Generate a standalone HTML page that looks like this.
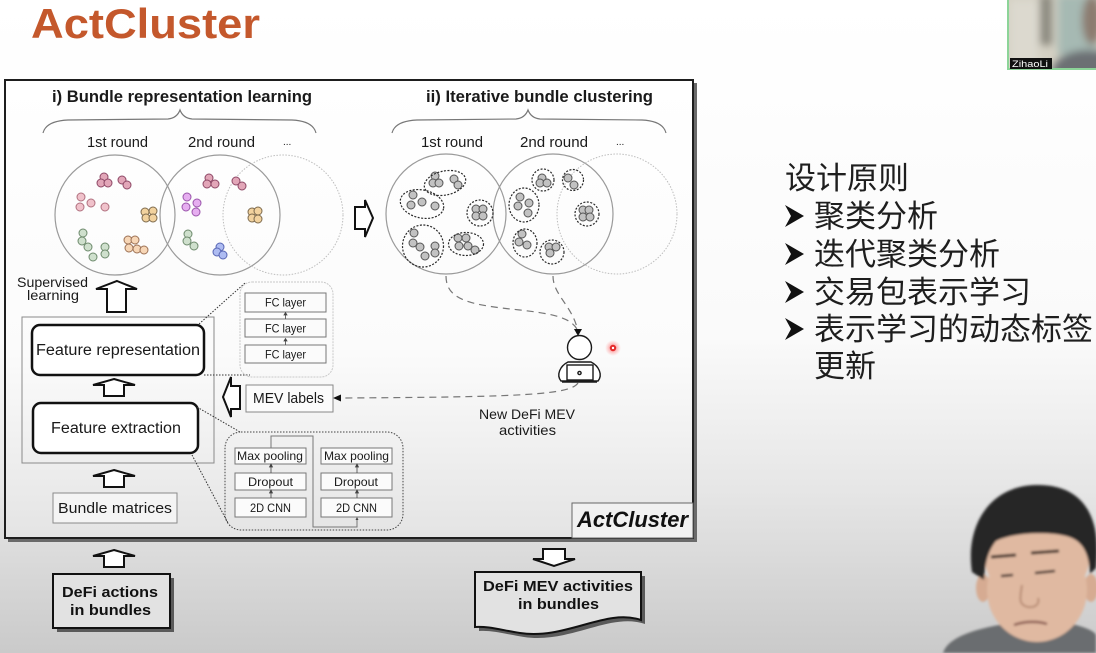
<!DOCTYPE html>
<html><head><meta charset="utf-8"><style>
html,body{margin:0;padding:0;width:1096px;height:653px;overflow:hidden;background:#fff}
svg{display:block}
</style></head><body>
<svg width="1096" height="653" viewBox="0 0 1096 653" xmlns="http://www.w3.org/2000/svg">
<defs>
<linearGradient id="bg" x1="0" y1="0" x2="0" y2="653" gradientUnits="userSpaceOnUse">
<stop offset="0" stop-color="#ffffff"/><stop offset="0.52" stop-color="#fafafa"/><stop offset="0.75" stop-color="#e6e6e6"/><stop offset="1" stop-color="#cacaca"/>
</linearGradient>
<linearGradient id="bx" x1="0" y1="80" x2="0" y2="538" gradientUnits="userSpaceOnUse">
<stop offset="0" stop-color="#ffffff"/><stop offset="0.6" stop-color="#fbfbfb"/><stop offset="1" stop-color="#e4e4e4"/>
</linearGradient>
<radialGradient id="rd"><stop offset="0" stop-color="#ff5050" stop-opacity="0.8"/><stop offset="1" stop-color="#ff8080" stop-opacity="0"/></radialGradient>
<filter id="b3"><feGaussianBlur stdDeviation="4"/></filter>
<filter id="b1"><feGaussianBlur stdDeviation="1.2"/></filter>
<clipPath id="cam"><rect x="1008" y="0" width="88" height="69"/></clipPath>
<clipPath id="pp"><rect x="900" y="470" width="196" height="183"/></clipPath>
</defs>

<rect x="0" y="0" width="1096" height="653" fill="url(#bg)"/>

<!-- Title -->
<text x="31" y="38" font-family="Liberation Sans, sans-serif" font-weight="bold" font-size="42" fill="#c4582c" textLength="229" lengthAdjust="spacingAndGlyphs">ActCluster</text>

<!-- Main box -->
<rect x="8" y="83" width="689" height="459" fill="#6a6a6a"/>
<rect x="5" y="80" width="688" height="458" fill="url(#bx)" stroke="#1e1e1e" stroke-width="2"/>

<g font-family="Liberation Sans, sans-serif" fill="#1a1a1a">
<text x="52" y="102" font-weight="bold" font-size="17" textLength="260" lengthAdjust="spacingAndGlyphs">i) Bundle representation learning</text>
<text x="426" y="102" font-weight="bold" font-size="17" textLength="227" lengthAdjust="spacingAndGlyphs">ii) Iterative bundle clustering</text>
<text x="87" y="147" font-size="15" textLength="61" lengthAdjust="spacingAndGlyphs">1st round</text>
<text x="188" y="147" font-size="15" textLength="67" lengthAdjust="spacingAndGlyphs">2nd round</text>
<text x="283" y="145" font-size="10">...</text>
<text x="421" y="147" font-size="15" textLength="62" lengthAdjust="spacingAndGlyphs">1st round</text>
<text x="520" y="147" font-size="15" textLength="68" lengthAdjust="spacingAndGlyphs">2nd round</text>
<text x="616" y="145" font-size="10">...</text>
</g>

<!-- braces -->
<g fill="none" stroke="#777" stroke-width="1.2">
<path d="M43,133 Q46,121 68,120 L168,119 Q177,118 180,110 Q183,118 192,119 L292,120 Q313,121 316,133"/>
<path d="M392,133 Q395,121 417,120 L516,119 Q525,118 528,110 Q531,118 540,119 L642,120 Q663,121 666,133"/>
</g>

<!-- big circles -->
<g fill="none">
<circle cx="115" cy="215" r="60" stroke="#9a9a9a" stroke-width="1.2"/>
<circle cx="220" cy="215" r="60" stroke="#9a9a9a" stroke-width="1.2"/>
<circle cx="283" cy="215" r="60" stroke="#bdbdbd" stroke-width="1" stroke-dasharray="1.5 1.5"/>
<circle cx="446" cy="214" r="60" stroke="#9a9a9a" stroke-width="1.2"/>
<circle cx="553" cy="214" r="60" stroke="#9a9a9a" stroke-width="1.2"/>
<circle cx="617" cy="214" r="60" stroke="#bdbdbd" stroke-width="1" stroke-dasharray="1.5 1.5"/>
</g>

<!-- colored dots -->
<g stroke-width="1">
<g fill="#e2a6b8" stroke="#8e4866">
<circle cx="104" cy="177" r="4"/><circle cx="101" cy="183" r="4"/><circle cx="108" cy="183" r="4"/><circle cx="122" cy="180" r="4"/><circle cx="127" cy="185" r="4"/>
<circle cx="209" cy="178" r="4"/><circle cx="207" cy="184" r="4"/><circle cx="215" cy="184" r="4"/><circle cx="236" cy="181" r="4"/><circle cx="242" cy="186" r="4"/>
</g>
<g fill="#f0c2cb" stroke="#b0707f">
<circle cx="81" cy="197" r="4"/><circle cx="80" cy="207" r="4"/><circle cx="91" cy="203" r="4"/><circle cx="105" cy="207" r="4"/>
</g>
<g fill="#f2d29e" stroke="#7d6a4d">
<circle cx="145" cy="212" r="4"/><circle cx="153" cy="211" r="4"/><circle cx="146" cy="218" r="4"/><circle cx="153" cy="218" r="4"/>
<circle cx="252" cy="212" r="4"/><circle cx="258" cy="211" r="4"/><circle cx="252" cy="218" r="4"/><circle cx="258" cy="219" r="4"/>
</g>
<g fill="#cfe0cd" stroke="#6d8a6c">
<circle cx="83" cy="233" r="4"/><circle cx="82" cy="241" r="4"/><circle cx="88" cy="247" r="4"/><circle cx="93" cy="257" r="4"/><circle cx="105" cy="247" r="4"/><circle cx="105" cy="254" r="4"/>
<circle cx="188" cy="234" r="4"/><circle cx="187" cy="241" r="4"/><circle cx="194" cy="246" r="4"/>
</g>
<g fill="#f7d6b6" stroke="#9c7155">
<circle cx="128" cy="240" r="4"/><circle cx="135" cy="240" r="4"/><circle cx="129" cy="248" r="4"/><circle cx="137" cy="249" r="4"/><circle cx="144" cy="250" r="4"/>
</g>
<g fill="#e6aef0" stroke="#9a55ab">
<circle cx="187" cy="197" r="4"/><circle cx="197" cy="203" r="4"/><circle cx="186" cy="207" r="4"/><circle cx="196" cy="212" r="4"/>
</g>
<g fill="#aebcf2" stroke="#5866b4">
<circle cx="220" cy="247" r="4"/><circle cx="217" cy="252" r="4"/><circle cx="223" cy="255" r="4"/>
</g>
</g>

<!-- gray dots + dashed clusters -->
<g fill="#c2c2c2" stroke="#555" stroke-width="1">
<circle cx="435" cy="176" r="4"/><circle cx="433" cy="183" r="4"/><circle cx="439" cy="183" r="4"/><circle cx="454" cy="179" r="4"/><circle cx="458" cy="185" r="4"/>
<circle cx="413" cy="195" r="4"/><circle cx="411" cy="205" r="4"/><circle cx="422" cy="202" r="4"/><circle cx="435" cy="206" r="4"/>
<circle cx="476" cy="209" r="4"/><circle cx="483" cy="209" r="4"/><circle cx="476" cy="216" r="4"/><circle cx="483" cy="216" r="4"/>
<circle cx="414" cy="233" r="4"/><circle cx="413" cy="243" r="4"/><circle cx="420" cy="247" r="4"/><circle cx="435" cy="246" r="4"/><circle cx="435" cy="253" r="4"/><circle cx="425" cy="256" r="4"/>
<circle cx="458" cy="238" r="4"/><circle cx="466" cy="238" r="4"/><circle cx="459" cy="246" r="4"/><circle cx="468" cy="246" r="4"/><circle cx="475" cy="250" r="4"/>
<circle cx="542" cy="178" r="4"/><circle cx="540" cy="183" r="4"/><circle cx="547" cy="183" r="4"/>
<circle cx="568" cy="178" r="4"/><circle cx="574" cy="185" r="4"/>
<circle cx="520" cy="197" r="4"/><circle cx="518" cy="206" r="4"/><circle cx="529" cy="203" r="4"/><circle cx="528" cy="213" r="4"/>
<circle cx="583" cy="210" r="4"/><circle cx="589" cy="210" r="4"/><circle cx="583" cy="217" r="4"/><circle cx="590" cy="217" r="4"/>
<circle cx="522" cy="234" r="4"/><circle cx="519" cy="242" r="4"/><circle cx="527" cy="245" r="4"/>
<circle cx="549" cy="247" r="4"/><circle cx="556" cy="247" r="4"/><circle cx="550" cy="253" r="4"/>
</g>
<g fill="none" stroke="#2a2a2a" stroke-width="1.2" stroke-dasharray="2 1.5">
<ellipse cx="445" cy="183" rx="21" ry="12" transform="rotate(-12 445 183)"/>
<ellipse cx="422" cy="204" rx="22" ry="14" transform="rotate(12 422 204)"/>
<circle cx="480" cy="213" r="13"/>
<ellipse cx="423" cy="246" rx="20.5" ry="21"/>
<ellipse cx="466" cy="244" rx="17.5" ry="11.5"/>
<circle cx="543" cy="180" r="11"/>
<circle cx="573" cy="180" r="10.5"/>
<ellipse cx="524" cy="205" rx="15" ry="17"/>
<circle cx="587" cy="214" r="12"/>
<ellipse cx="525" cy="243" rx="12" ry="14"/>
<circle cx="552" cy="252" r="12"/>
</g>

<!-- right arrows between sections -->
<path d="M355,207 H365 V200 L373,218 L365,237 V229 H355 Z" fill="#fff" stroke="#111" stroke-width="2" stroke-linejoin="miter"/>

<!-- dashed curves to person -->
<g fill="none" stroke="#777" stroke-width="1.2" stroke-dasharray="7 5">
<path d="M446,276 C446,300 470,305 520,310 C555,314 572,318 578,331"/>
<path d="M553,276 C553,295 572,305 578,331"/>
<path d="M578,383 C570,395 520,397 340,398"/>
</g>
<path d="M574,329 L582,329 L578,336 Z" fill="#111"/>
<path d="M333,398 L341,394.5 L341,401.5 Z" fill="#111"/>

<!-- person -->
<g fill="#fff" stroke="#1a1a1a" stroke-width="1.4">
<circle cx="579.5" cy="347.5" r="12"/>
<path d="M561,381 C556,375 560,366 568,362 L591,362 C599,366 603,375 598,381 Z"/>
<rect x="567" y="365" width="26" height="15"/>
<circle cx="579.5" cy="373" r="1.6"/>
<line x1="562" y1="382" x2="597" y2="382"/>
</g>

<!-- red pointer -->
<circle cx="613" cy="348" r="8" fill="url(#rd)"/>
<circle cx="613" cy="348" r="3.2" fill="#e52a2a"/>
<circle cx="613" cy="348" r="1.2" fill="#fff"/>

<g font-family="Liberation Sans, sans-serif" fill="#1a1a1a">
<text x="479" y="419" font-size="14" textLength="96" lengthAdjust="spacingAndGlyphs">New DeFi MEV</text>
<text x="499" y="435" font-size="14" textLength="57" lengthAdjust="spacingAndGlyphs">activities</text>
</g>

<!-- ActCluster label -->
<rect x="572" y="503" width="121" height="35" fill="#f1f1f1" stroke="#666" stroke-width="1"/>
<text x="577" y="527" font-family="Liberation Sans, sans-serif" font-weight="bold" font-style="italic" font-size="22" fill="#111" textLength="111" lengthAdjust="spacingAndGlyphs">ActCluster</text>

<!-- left pipeline -->
<g font-family="Liberation Sans, sans-serif" fill="#1a1a1a">
<text x="17" y="287" font-size="14" textLength="71" lengthAdjust="spacingAndGlyphs">Supervised</text>
<text x="27" y="300" font-size="14" textLength="52" lengthAdjust="spacingAndGlyphs">learning</text>
</g>
<path d="M117,281 L137,289 L126,289 V312 H107 V289 L96,289 Z" fill="#fff" stroke="#111" stroke-width="2" stroke-linejoin="miter"/>

<rect x="22" y="317" width="192" height="146" fill="none" stroke="#8a8a8a" stroke-width="1"/>
<rect x="32" y="325" width="172" height="50" rx="8" fill="#fff" stroke="#111" stroke-width="2.5"/>
<text x="36" y="355" font-family="Liberation Sans, sans-serif" font-size="15.5" fill="#1a1a1a" textLength="164" lengthAdjust="spacingAndGlyphs">Feature representation</text>
<path d="M114,379 L135,385 L124,385 V396 H104 V385 L93,385 Z" fill="#fff" stroke="#111" stroke-width="2"/>
<rect x="33" y="403" width="165" height="50" rx="8" fill="#fff" stroke="#111" stroke-width="2.5"/>
<text x="51" y="433" font-family="Liberation Sans, sans-serif" font-size="15.5" fill="#1a1a1a" textLength="130" lengthAdjust="spacingAndGlyphs">Feature extraction</text>
<path d="M114,470 L135,476 L124,476 V487 H104 V476 L93,476 Z" fill="#fff" stroke="#111" stroke-width="2"/>
<rect x="53" y="493" width="124" height="30" fill="#f4f4f4" stroke="#8a8a8a" stroke-width="1"/>
<text x="58" y="513" font-family="Liberation Sans, sans-serif" font-size="15" fill="#1a1a1a" textLength="114" lengthAdjust="spacingAndGlyphs">Bundle matrices</text>

<!-- dotted leaders -->
<g stroke="#333" stroke-width="1" stroke-dasharray="1.5 1.5" fill="none">
<line x1="199" y1="324" x2="245" y2="283"/>
<line x1="204" y1="375" x2="250" y2="375"/>
<line x1="197" y1="407" x2="240" y2="432"/>
<line x1="192" y1="455" x2="228" y2="523"/>
</g>

<!-- FC group -->
<rect x="240" y="282" width="93" height="95" rx="12" fill="none" stroke="#c9c9c9" stroke-width="1" stroke-dasharray="2 1"/>
<g fill="#fbfbfb" stroke="#777" stroke-width="1">
<rect x="245" y="293" width="81" height="19"/>
<rect x="245" y="319" width="81" height="18"/>
<rect x="245" y="345" width="81" height="18"/>
</g>
<g font-family="Liberation Sans, sans-serif" font-size="12" fill="#1a1a1a">
<text x="265" y="306.5" textLength="41" lengthAdjust="spacingAndGlyphs">FC layer</text>
<text x="265" y="332.5" textLength="41" lengthAdjust="spacingAndGlyphs">FC layer</text>
<text x="265" y="358.5" textLength="41" lengthAdjust="spacingAndGlyphs">FC layer</text>
</g>
<g stroke="#444" stroke-width="0.8" fill="#444">
<line x1="285.5" y1="319" x2="285.5" y2="314"/><path d="M284,315 L287,315 L285.5,312.5 Z"/>
<line x1="285.5" y1="345" x2="285.5" y2="340"/><path d="M284,341 L287,341 L285.5,338.5 Z"/>
</g>

<!-- MEV labels -->
<path d="M223,397 L231,377 V386 H240 V409 H231 V417 Z" fill="#fff" stroke="#111" stroke-width="2"/>
<rect x="246" y="385" width="87" height="27" fill="#fbfbfb" stroke="#888" stroke-width="1"/>
<text x="253" y="403" font-family="Liberation Sans, sans-serif" font-size="15" fill="#1a1a1a" textLength="71" lengthAdjust="spacingAndGlyphs">MEV labels</text>

<!-- CNN group -->
<rect x="225" y="432" width="178" height="98" rx="16" fill="none" stroke="#444" stroke-width="1" stroke-dasharray="1.5 1.5"/>
<polyline points="271,448 271,436 313,436 313,527 357,527 357,519" fill="none" stroke="#777" stroke-width="1"/>
<path d="M355.5,520 L358.5,520 L357,517 Z" fill="#444"/>
<g fill="#fbfbfb" stroke="#777" stroke-width="1">
<rect x="235" y="448" width="71" height="16"/>
<rect x="235" y="473" width="71" height="17"/>
<rect x="235" y="498" width="71" height="19"/>
<rect x="321" y="448" width="71" height="16"/>
<rect x="321" y="473" width="71" height="17"/>
<rect x="321" y="498" width="71" height="19"/>
</g>
<g stroke="#444" stroke-width="0.8" fill="#444">
<line x1="271" y1="473" x2="271" y2="466"/><path d="M269.5,467 L272.5,467 L271,464 Z"/>
<line x1="271" y1="498" x2="271" y2="492"/><path d="M269.5,493 L272.5,493 L271,490 Z"/>
<line x1="357" y1="473" x2="357" y2="466"/><path d="M355.5,467 L358.5,467 L357,464 Z"/>
<line x1="357" y1="498" x2="357" y2="492"/><path d="M355.5,493 L358.5,493 L357,490 Z"/>
</g>
<g font-family="Liberation Sans, sans-serif" font-size="12" fill="#1a1a1a">
<text x="237" y="460" textLength="66" lengthAdjust="spacingAndGlyphs">Max pooling</text>
<text x="324" y="460" textLength="65" lengthAdjust="spacingAndGlyphs">Max pooling</text>
<text x="248" y="486" textLength="45" lengthAdjust="spacingAndGlyphs">Dropout</text>
<text x="334" y="486" textLength="44" lengthAdjust="spacingAndGlyphs">Dropout</text>
<text x="250" y="512" textLength="41" lengthAdjust="spacingAndGlyphs">2D CNN</text>
<text x="336" y="512" textLength="41" lengthAdjust="spacingAndGlyphs">2D CNN</text>
</g>

<!-- bottom I/O -->
<path d="M114,550 L135,556 L124,556 V567 H104 V556 L93,556 Z" fill="#fff" stroke="#111" stroke-width="2"/>
<rect x="57" y="578" width="117" height="54" fill="#5a5a5a"/>
<rect x="53" y="574" width="117" height="54" fill="#e2e2e2" stroke="#111" stroke-width="2"/>
<g font-family="Liberation Sans, sans-serif" font-weight="bold" font-size="15" fill="#111">
<text x="62" y="597" textLength="96" lengthAdjust="spacingAndGlyphs">DeFi actions</text>
<text x="70" y="615" textLength="81" lengthAdjust="spacingAndGlyphs">in bundles</text>
</g>

<path d="M543,549 H565 V559 H575 L554,566 L533,559 H543 Z" fill="#fff" stroke="#111" stroke-width="2"/>
<path d="M479,576 H645 V624 C610,612 570,644 524,637 C505,634 492,630 479,631 Z" fill="#5a5a5a"/>
<path d="M475,572 H641 V620 C606,608 566,640 520,633 C501,630 488,626 475,627 Z" fill="#e2e2e2" stroke="#111" stroke-width="2"/>
<g font-family="Liberation Sans, sans-serif" font-weight="bold" font-size="15" fill="#111">
<text x="483" y="591" textLength="150" lengthAdjust="spacingAndGlyphs">DeFi MEV activities</text>
<text x="518" y="609" textLength="81" lengthAdjust="spacingAndGlyphs">in bundles</text>
</g>

<!-- Chinese notes -->
<g font-family="Liberation Sans, 'Noto Sans CJK SC', sans-serif" font-size="31" fill="#1e1e1e">
<text x="785" y="189">设计原则</text>
<text x="814" y="227">聚类分析</text>
<text x="814" y="265">迭代聚类分析</text>
<text x="814" y="303">交易包表示学习</text>
<text x="814" y="340">表示学习的动态标签</text>
<text x="814" y="377">更新</text>
</g>
<g fill="#111">
<path d="M785,205 L804,216 L785,227 L791,216 Z"/>
<path d="M785,243 L804,254 L785,265 L791,254 Z"/>
<path d="M785,281 L804,292 L785,303 L791,292 Z"/>
<path d="M785,318 L804,329 L785,340 L791,329 Z"/>
</g>

<!-- webcam top right -->
<g clip-path="url(#cam)">
<rect x="1008" y="0" width="88" height="69" fill="#d4d0c3"/>
<g filter="url(#b3)">
<rect x="1010" y="0" width="28" height="69" fill="#dcd9cf"/>
<rect x="1040" y="-5" width="12" height="50" fill="#8c8a80"/>
<rect x="1058" y="-5" width="40" height="60" fill="#a6b9b3"/>
<ellipse cx="1088" cy="72" rx="36" ry="22" fill="#6c7073"/>
<ellipse cx="1092" cy="20" rx="10" ry="25" fill="#8c7c70"/>
</g>
</g>
<rect x="1008" y="-2" width="90" height="71" fill="none" stroke="#8cd498" stroke-width="2"/>
<rect x="1010" y="58" width="42" height="11" fill="#111"/>
<text x="1012" y="67" font-family="Liberation Sans, sans-serif" font-size="9" fill="#fff" textLength="36" lengthAdjust="spacingAndGlyphs">ZihaoLi</text>

<!-- bottom-right presenter -->
<g clip-path="url(#pp)" filter="url(#b1)">
<path d="M943,653 C948,636 980,628 1005,624 L1072,624 C1088,628 1096,632 1096,636 V653 Z" fill="#6a6d6f"/>
<path d="M1012,612 L1062,612 L1066,632 C1050,640 1025,640 1008,632 Z" fill="#c99e86"/>
<ellipse cx="983" cy="588" rx="7" ry="14" fill="#d6ab92"/>
<ellipse cx="1091" cy="588" rx="7" ry="14" fill="#d6ab92"/>
<ellipse cx="1037" cy="560" rx="52" ry="40" fill="#e0b9a1"/>
<ellipse cx="1037" cy="590" rx="50" ry="52" fill="#e0b9a1"/>
<path d="M972,572 C965,525 990,486 1036,485 C1082,484 1102,515 1096,568 L1090,574 C1089,552 1082,540 1066,536 C1045,531 1012,533 996,541 C988,551 985,563 984,580 Z" fill="#262626"/>
<path d="M991,557 L1016,555" stroke="#3a2a24" stroke-width="3" fill="none"/>
<path d="M1031,553 L1059,551" stroke="#3a2a24" stroke-width="3" fill="none"/>
<path d="M1001,576 L1013,575" stroke="#3b2b25" stroke-width="2.5" fill="none"/>
<path d="M1035,573 L1055,571" stroke="#3b2b25" stroke-width="2.5" fill="none"/>
<path d="M1022,585 C1020,598 1018,605 1028,607 C1035,608 1040,604 1038,598" stroke="#b88c74" stroke-width="2" fill="none"/>
<path d="M1014,625 C1025,621 1038,621 1047,624" stroke="#8a5a50" stroke-width="2.5" fill="none"/>
</g>
</svg>
</body></html>
